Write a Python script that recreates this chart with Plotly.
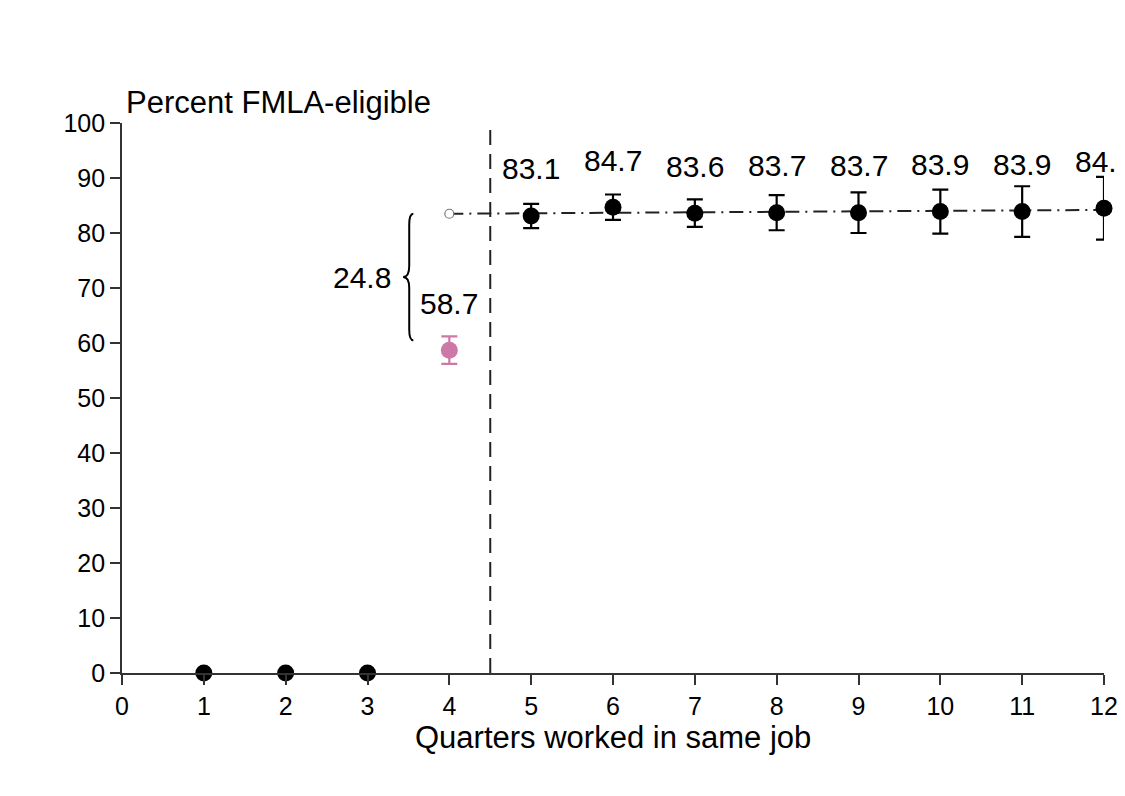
import plotly.graph_objects as go

# ---- data ----
quarters = [1, 2, 3, 4, 5, 6, 7, 8, 9, 10, 11, 12]
eligible = [0, 0, 0, 58.7, 83.1, 84.7, 83.6, 83.7, 83.7, 83.9, 83.9, 84.5]
ci_half = [0, 0, 0, 2.5, 2.2, 2.3, 2.5, 3.2, 3.7, 4.0, 4.6, 5.7]
trend_x = [4, 12]
trend_y = [83.5, 84.2]
cutoff = 4.5
gap_label = "24.8"
x_ticks = list(range(0, 13))
y_ticks = list(range(0, 101, 10))

FONT = "Liberation Sans, Arial, sans-serif"
PINK = "#cc79a7"

fig = go.Figure()

# trend (dash-dot) line with hollow start point
fig.add_trace(go.Scatter(
    x=trend_x, y=trend_y, mode="lines",
    line=dict(color="#222222", width=2, dash="14px,6px,2px,6px"),
    hoverinfo="skip", showlegend=False, cliponaxis=False))
fig.add_trace(go.Scatter(
    x=trend_x[:1], y=trend_y[:1], mode="markers",
    marker=dict(size=9, color="white", line=dict(color="#777777", width=1.2)),
    showlegend=False, cliponaxis=False))

# black points (all except quarter 4)
bx = [q for q in quarters if q != 4]
by = [v for q, v in zip(quarters, eligible) if q != 4]
be = [e for q, e in zip(quarters, ci_half) if q != 4]
fig.add_trace(go.Scatter(
    x=bx, y=by, mode="markers",
    marker=dict(size=17, color="black"),
    error_y=dict(type="data", array=be, visible=True, color="black",
                 thickness=2.2, width=8),
    showlegend=False, cliponaxis=False))

# pink point at quarter 4
i4 = quarters.index(4)
fig.add_trace(go.Scatter(
    x=[quarters[i4]], y=[eligible[i4]], mode="markers",
    marker=dict(size=17, color=PINK),
    error_y=dict(type="data", array=[ci_half[i4]], visible=True, color=PINK,
                 thickness=2.2, width=8),
    showlegend=False, cliponaxis=False))

# vertical cutoff line
fig.add_shape(type="line", xref="x", yref="y", x0=cutoff, x1=cutoff,
              y0=y_ticks[0], y1=y_ticks[-1],
              line=dict(color="#222222", width=2, dash="15px,9px"))

# value labels
for q, v in zip(quarters, eligible):
    if v > 0:
        fig.add_annotation(x=q, y=v, text=f"{v:.1f}", showarrow=False,
                           yshift=47, font=dict(family=FONT, size=30, color="black"))

# curly brace between pink point and trend start
top = trend_y[0]
bot = eligible[i4] + 1.8
mid = (top + bot) / 2
xe, xs, xt, d = 3.56, 3.51, 3.435, 2.0
path = (f"M {xe},{top} Q {xs},{top} {xs},{top-d} L {xs},{mid+d} "
        f"Q {xs},{mid} {xt},{mid} Q {xs},{mid} {xs},{mid-d} "
        f"L {xs},{bot+d} Q {xs},{bot} {xe},{bot}")
fig.add_shape(type="path", xref="x", yref="y", path=path,
              line=dict(color="black", width=2))
fig.add_annotation(x=xt, y=mid, text=gap_label, showarrow=False,
                   xanchor="right", xshift=-10,
                   font=dict(family=FONT, size=30, color="black"))

# axis titles as annotations
fig.add_annotation(xref="paper", yref="paper", x=0, y=1, xanchor="left",
                   yanchor="middle", xshift=2, yshift=21,
                   text="Percent FMLA-eligible", showarrow=False,
                   font=dict(family=FONT, size=31, color="black"))
fig.add_annotation(xref="paper", yref="paper", x=0.5, y=0, xanchor="center",
                   yanchor="middle", yshift=-64,
                   text="Quarters worked in same job", showarrow=False,
                   font=dict(family=FONT, size=31, color="black"))

axis_common = dict(showgrid=False, zeroline=False, showline=True,
                   linecolor="#333333", linewidth=1.8, ticks="outside",
                   tickcolor="#333333", tickwidth=1.8, ticklen=10,
                   automargin=False,
                   tickfont=dict(family=FONT, size=25, color="black"))

fig.update_layout(
    width=1117, height=778,
    margin=dict(l=114, r=21, t=115, b=113, autoexpand=False),
    paper_bgcolor="white", plot_bgcolor="white",
    xaxis=dict(range=[x_ticks[0], x_ticks[-1]], tickvals=x_ticks, **axis_common),
    yaxis=dict(range=[y_ticks[0], y_ticks[-1]], tickvals=y_ticks,
               ticklabelstandoff=0, **axis_common),
    showlegend=False,
)

fig.write_html("out.html")
